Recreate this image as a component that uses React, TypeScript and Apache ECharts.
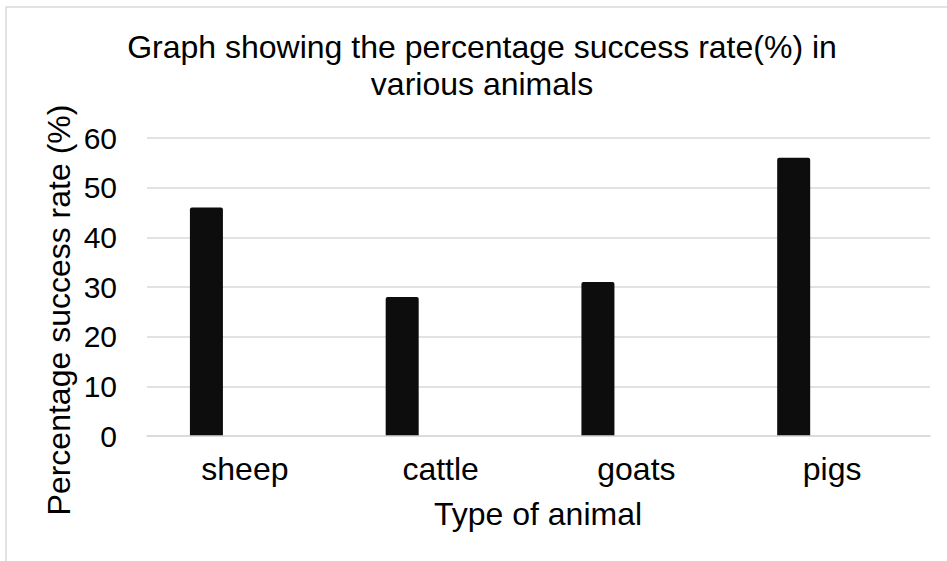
import React, { useEffect, useRef } from "react";
import * as echarts from "echarts";

const categories = ["sheep", "cattle", "goats", "pigs"];
const successRate = [46, 28, 31, 56];
const emptySeries = [null, null, null, null];
const yTicks = { min: 0, max: 60, interval: 10 };
const titleText = "Graph showing the percentage success rate(%) in\nvarious animals";
const xName = "Type of animal";
const yName = "Percentage success rate (%)";

export default function App() {
  const ref = useRef<HTMLDivElement>(null);
  useEffect(() => {
    document.body.style.margin = "0";
    const chart = echarts.init(ref.current!, null, { renderer: "svg" });
    const font = '"Liberation Sans", Arial, sans-serif';
    chart.setOption({
      animation: false,
      backgroundColor: "#ffffff",
      grid: { left: 147, right: 17, top: 138, bottom: 125, containLabel: false },
      graphic: [
        {
          type: "rect",
          shape: { x: 6, y: 7, width: 1000, height: 600 },
          style: { fill: "none", stroke: "#d9d9d9", lineWidth: 1.5 },
          silent: true,
        },
        {
          type: "text",
          x: 482,
          y: 28,
          style: {
            text: titleText,
            font: `32px ${font}`,
            fill: "#000",
            textAlign: "center",
            textVerticalAlign: "top",
            lineHeight: 37,
          },
        },
        {
          type: "text",
          x: 538,
          y: 514,
          style: {
            text: xName,
            font: `32px ${font}`,
            fill: "#000",
            textAlign: "center",
            textVerticalAlign: "middle",
          },
        },
        {
          type: "text",
          x: 59,
          y: 310,
          rotation: Math.PI / 2,
          style: {
            text: yName,
            font: `32px ${font}`,
            fill: "#000",
            textAlign: "center",
            textVerticalAlign: "middle",
          },
        },
      ],
      xAxis: {
        type: "category",
        data: categories,
        axisLine: { show: true, lineStyle: { color: "#d9d9d9", width: 1.5 } },
        axisTick: { show: false },
        axisLabel: { color: "#000", fontSize: 32, fontFamily: font, margin: 17 },
        z: 5,
      },
      yAxis: {
        type: "value",
        min: yTicks.min,
        max: yTicks.max,
        interval: yTicks.interval,
        axisLine: { show: false },
        axisTick: { show: false },
        axisLabel: { color: "#000", fontSize: 30, fontFamily: font, margin: 30 },
        splitLine: { lineStyle: { color: "#d9d9d9", width: 1.5 } },
      },
      series: [
        {
          type: "bar",
          data: successRate,
          barWidth: 33,
          barGap: "133%",
          itemStyle: { color: "#0d0d0d", borderRadius: [2, 2, 0, 0] },
        },
        {
          type: "bar",
          data: emptySeries,
          barWidth: 33,
          barGap: "133%",
          itemStyle: { color: "#0d0d0d" },
        },
      ],
    });
    return () => chart.dispose();
  }, []);
  return <div ref={ref} style={{ width: 947, height: 561 }} />;
}
